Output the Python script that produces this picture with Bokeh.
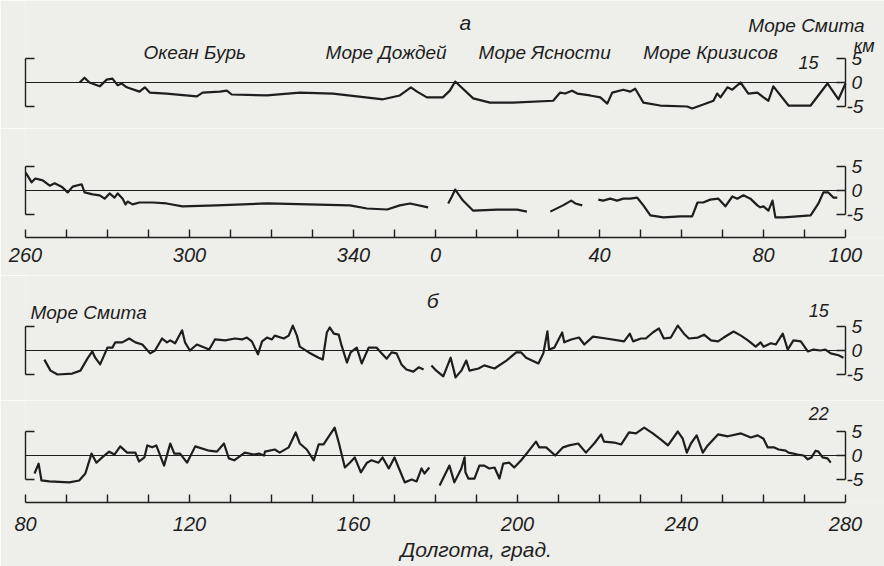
from bokeh.plotting import figure
from bokeh.layouts import column
from bokeh.models import Range1d, LinearAxis, FixedTicker, Label, ColumnDataSource, Title
from bokeh.embed import file_html
from bokeh.resources import INLINE

nan = float("nan")

# ---------------- data ----------------
# panel "а": longitude unwrapped (360 = 0, 400 = 40, 460 = 100), height in km
lon_a15 = [273.2, 274.4, 275.6, 278.1, 279.8, 281.2, 282.5, 283.4, 284.7, 287.8, 289.1, 290.3, 294.4, 301.8, 303.2,
           307.4, 309.1, 310.3, 318.9, 326.9, 335.0, 347.2, 351.3, 354.0, 355.5, 357.9, 361.8, 363.5, 364.8, 369.2,
           373.3, 378.9, 388.7, 390.4, 391.6, 393.3, 394.6, 397.7, 400.2, 401.9, 403.1, 405.8, 407.5, 408.7, 409.4,
           410.7, 414.8, 421.4, 422.6, 425.3, 427.8, 428.7, 429.5, 431.2, 432.4, 434.4, 436.3, 438.5, 440.0, 441.2,
           442.4, 446.1, 451.5, 455.6, 458.3, 460.0]
h_a15 = [0, 1.0, 0, -0.8, 0.6, 0.8, -0.6, -0.2, -1.0, -1.9, -1.0, -2.1, -2.3, -2.9, -2.1,
         -1.9, -1.7, -2.5, -2.7, -2.1, -2.3, -3.5, -2.7, -1.0, -1.9, -3.1, -3.1, -1.7, 0.2, -3.3,
         -4.2, -4.2, -3.8, -2.1, -2.3, -1.7, -2.3, -2.7, -3.1, -4.4, -2.1, -1.5, -1.9, -1.3, -2.3,
         -4.2, -4.8, -5.0, -5.4, -4.6, -3.8, -2.3, -3.1, -1.0, -1.5, 0, -2.3, -2.1, -3.1, -3.8,
         -0.8, -4.8, -4.8, -0.2, -3.5, -0.2]

lon_a22 = [260.0, 260.5, 261.5, 262.4, 264.2, 265.9, 267.1, 268.8, 270.3, 271.5, 273.7, 274.4, 276.4, 278.1,
           279.3, 280.5, 281.7, 282.5, 283.7, 284.4, 284.9, 286.1, 287.8, 291.0, 294.4, 298.3, 306.6, 318.9,
           339.1, 343.3, 348.2, 351.3, 353.8, 358.2, nan,
           363.1, 364.0, 364.8, 366.7, 369.2, 375.0, 379.9, 382.3, nan,
           388.0, 391.1, 393.1, 394.1, 395.8, nan,
           399.7, 400.9, 402.6, 404.3, 405.8, 407.5, 409.2, 410.7, 412.4, 415.6, 419.7, 422.6, 423.9, 425.3,
           427.0, 429.0, 430.7, 432.4, 433.6, 435.1, 436.8, 438.5, 439.2, 440.0, 441.2, 442.2, 442.9, 444.9,
           451.5, 453.4, 454.6, 455.8, 457.1, 458.0]
h_a22 = [3.75, 3.1, 1.7, 2.5, 2.1, 1.0, 1.5, 0.8, -0.4, 0.8, 1.3, -0.4, -0.8, -1.0,
         -1.7, -0.6, -1.5, -0.6, -1.7, -2.9, -2.3, -2.9, -2.5, -2.5, -2.7, -3.3, -3.1, -2.7,
         -3.1, -3.75, -3.96, -3.1, -2.7, -3.5, nan,
         -2.7, -1.25, 0.2, -2.1, -4.2, -4.0, -4.0, -4.4, nan,
         -4.4, -3.1, -2.1, -2.7, -3.1, nan,
         -1.9, -2.1, -1.7, -2.1, -1.7, -1.7, -1.5, -3.1, -5.2, -5.6, -5.4, -5.4, -2.5, -2.5,
         -1.9, -1.7, -3.3, -1.25, -1.7, -1.0, -1.7, -3.1, -3.5, -3.3, -4.2, -2.1, -5.6, -5.6,
         -5.2, -2.7, -0.4, -0.4, -1.5, -1.5]

# panel "б"
lon_b15 = [84.6, 86.1, 87.8, 91.4, 93.4, 95.1, 96.3, 97.0, 98.2, 100.0,
           101.2, 101.9, 103.6, 105.3, 106.8, 108.5, 110.4, 111.6, 113.3, 114.5,
           115.3, 116.5, 118.2, 118.9, 120.1, 121.8, 124.8, 126.2, 128.7, 131.1,
           132.8, 134.0, 135.2, 136.7, 137.7, 138.9, 140.1, 140.8, 143.0, 144.2,
           145.2, 146.2, 146.9, 149.1, 151.5, 152.5, 153.5, 154.2, 155.2, 156.4,
           157.1, 158.4, 159.3, 160.8, 162.0, 163.7, 165.6, 166.9, 168.1, 169.3,
           170.5, 171.7, 172.9, 174.6, 175.9, 177.1, nan,
           179.0, 180.2, 181.9, 183.7, 184.9, 186.3, 187.5, 188.3, 190.5, 191.9,
           194.4, 197.3, 199.7, 200.9, 202.1, 205.1, 206.3, 207.3, 207.7, 209.0,
           210.9, 211.4, 213.1, 215.0, 216.3, 218.4, 221.6, 226.0, 227.4, 228.2,
           230.1, 231.3, 233.0, 234.5, 235.7, 237.4, 239.1, 240.6, 241.8, 244.0,
           245.5, 247.2, 248.9, 250.3, 252.7, 254.5, 256.2, 258.1, 259.3, 260.0,
           261.8, 263.0, 264.7, 265.9, 267.3, 269.1, 270.8, 272.2, 273.9, 275.1,
           276.4, 278.3, 279.5]
h_b15 = [-1.9, -4.2, -5.0, -4.8, -4.2, -1.7, -0.2, -1.5, -2.9, 0.6,
         0.6, 1.7, 1.7, 2.5, 1.7, 1.25, -0.6, 0, 2.5, 1.7,
         2.1, 1.5, 4.2, 1.7, 0, 1.25, 0.2, 2.3, 2.1, 2.5,
         2.3, 2.7, 1.9, -0.8, 1.9, 2.7, 2.3, 3.1, 2.5, 3.1,
         5.2, 3.1, 0.8, -0.4, -1.5, -1.9, 3.75, 4.8, 3.5, 3.3,
         1.0, -2.5, -0.4, 0.6, -2.7, 0.6, 0.6, -0.6, -1.7, -0.4,
         -0.6, -2.9, -3.96, -4.4, -3.5, -3.96, nan,
         -3.1, -4.2, -5.4, -1.5, -5.6, -4.2, -2.1, -4.2, -3.75, -3.1,
         -3.75, -2.1, -0.4, -0.4, -1.5, -2.7, -0.6, 4.0, 0.2, 0.6,
         3.75, 1.7, 2.3, 2.7, 1.25, 2.9, 2.5, 1.9, 3.5, 1.9,
         2.5, 2.5, 3.75, 4.6, 2.5, 2.7, 5.2, 3.5, 2.5, 2.7,
         3.3, 2.1, 1.9, 2.7, 3.96, 3.1, 2.1, 0.8, 1.7, 0.8,
         1.5, 1.25, 3.5, 0.2, 2.1, 1.9, -0.2, 0.2, 0, 0.2,
         -0.6, -1.0, -1.5]

lon_b22 = [82.2, 83.2, 83.9, 85.8, 90.7, 93.1, 94.6, 96.1, 97.3, 98.7,
           100.4, 101.7, 103.1, 104.8, 106.8, 107.7, 109.0, 109.7, 110.9, 111.9,
           113.8, 115.3, 116.3, 117.7, 119.4, 121.4, 124.8, 126.7, 128.4, 129.6,
           130.9, 133.5, 135.7, 136.9, 138.2, 138.4, 140.8, 142.0, 144.2, 145.9,
           146.9, 148.6, 150.3, 151.5, 152.7, 155.4, 156.4, 157.9, 159.1, 160.3,
           161.8, 163.3, 164.4, 166.1, 167.1, 168.6, 170.0, 171.0, 172.5, 174.2,
           175.4, 176.6, 177.3, 178.5, nan,
           181.0, 183.4, 184.6, 186.3, 187.1, 187.3, 188.0, 189.5, 190.7, 191.9,
           193.1, 194.4, 195.6, 196.5, 198.0, 199.2, 200.9, 202.6, 204.5, 205.3,
           207.0, 209.2, 211.1, 212.6, 214.8, 216.7, 218.7, 220.4, 221.1, 223.6,
           225.3, 227.2, 228.9, 230.9, 233.0, 235.0, 236.7, 239.1, 240.3, 241.3,
           242.3, 243.7, 245.2, 246.4, 248.9, 251.3, 254.5, 256.9, 258.6, 260.0,
           261.0, 262.5, 263.7, 265.4, 266.1, 267.3, 268.3, 269.8, 270.8, 271.7,
           272.7, 273.4, 274.4, 275.6, 276.4]
h_b22 = [-3.75, -1.7, -5.2, -5.4, -5.6, -5.2, -3.75, 0.4, -1.5, -0.4,
         0.8, 0.2, 1.9, 0.6, 0.6, -1.25, -0.4, 2.1, 1.7, 2.1,
         -2.1, 2.5, 0.4, 0.4, -1.5, 1.9, 1.0, 0.8, 2.5, -0.6,
         -1.0, 0.6, 0.2, 0.4, 0, 0.8, 1.25, 0.6, 1.7, 4.8,
         2.5, 1.25, -1.0, 2.3, 2.3, 5.8, 2.7, -2.5, -1.5, -0.4,
         -3.5, -1.5, -1.0, -1.5, -0.4, -2.7, -0.4, -2.5, -5.6, -5.0,
         -5.4, -2.7, -3.75, -2.5, nan,
         -6.25, -2.1, -5.6, -2.7, -0.4, -3.5, -4.8, -4.8, -2.1, -2.1,
         -2.7, -2.5, -4.8, -1.7, -1.5, -2.5, -1.0, 0.8, 2.9, 1.7,
         1.7, 0, 1.7, 2.1, 2.5, 0.6, 2.5, 4.4, 2.9, 2.7,
         2.3, 4.8, 4.6, 5.8, 4.6, 3.3, 2.1, 5.0, 3.5, 0.6,
         2.5, 4.2, 0.6, 2.1, 4.4, 4.0, 4.6, 3.75, 4.2, 3.5,
         1.7, 1.7, 1.25, 1.0, 0.6, 0.4, 0.2, 0, -0.8, -0.4,
         1.0, 0.8, -0.4, -0.6, -1.5]

tick_pos_a = [260, 300, 340, 360, 400, 440, 460]
tick_lab_a = ["260", "300", "340", "0", "40", "80", "100"]
tick_pos_b = [80, 120, 160, 200, 240, 280]
tick_lab_b = ["80", "120", "160", "200", "240", "280"]
bracket_ticks = [-5, 0, 5]
bracket_labels = ["-5", "0", "5"]

# ---------------- style ----------------
BG = "#eeeeea"
INK = "#1e1e1e"
FONT = "Liberation Sans"
PX_PER_KM = 4.8
PX_PER_DEG = 4.1
W = 884
FRAME_L = 25
AX = dict(axis_line_color=INK, major_tick_line_color=INK, axis_line_width=1.4,
          major_tick_line_width=1.4, minor_tick_line_color=None)


def make_fig(height, x0, x1, zero_px, frame_h, mb_bottom):
    top = zero_px / PX_PER_KM
    bottom = -(frame_h - zero_px) / PX_PER_KM
    x_end = x0 + (W - FRAME_L) / PX_PER_DEG   # frame runs to the right edge of the page
    p = figure(width=W, height=height, x_range=Range1d(x0, x_end), y_range=Range1d(bottom, top),
               x_axis_type=None, y_axis_type=None, output_backend="svg", toolbar_location=None,
               min_border_left=FRAME_L, min_border_right=0, min_border_top=0, min_border_bottom=mb_bottom)
    p.background_fill_color = BG
    p.border_fill_color = BG
    p.outline_line_color = None
    left = LinearAxis(ticker=FixedTicker(ticks=[-5, 5]), bounds=(-5, 5), major_tick_in=9, major_tick_out=0,
                      major_label_standoff=0, major_label_overrides={-5: "", 5: ""},
                      major_label_text_font_size="1px", **AX)
    p.add_layout(left, "left")
    # right bracket at the end of the longitude scale
    right = LinearAxis(ticker=FixedTicker(ticks=bracket_ticks), bounds=(-5, 5), fixed_location=x1,
                       major_tick_in=9, major_tick_out=0, major_label_standoff=0,
                       major_label_overrides={t: "" for t in bracket_ticks},
                       major_label_text_font_size="1px", **AX)
    p.add_layout(right, "right")
    for t, l in zip(bracket_ticks, bracket_labels):
        p.add_layout(Label(x=x1, y=t, text=l, x_offset=6 if l != "-5" else 1, text_font=FONT,
                           text_font_style="italic", text_font_size="19px", text_color=INK,
                           text_align="left", text_baseline="middle"))
    p.segment(x0=[x0], y0=[0], x1=[x1], y1=[0], line_color=INK, line_width=1.1)
    return p


def xaxis(p, start, end, pos, lab, standoff):
    ticks = list(range(start, end + 1, 10))
    over = {t: "" for t in ticks}
    for t, l in zip(pos, lab):
        over[t] = l
    ax = LinearAxis(ticker=FixedTicker(ticks=ticks), bounds=(start, end), major_label_overrides=over,
                    major_tick_in=8, major_tick_out=0, major_label_standoff=standoff, major_label_text_font=FONT,
                    major_label_text_font_style="italic", major_label_text_font_size="20px",
                    major_label_text_color=INK, **AX)
    p.add_layout(ax, "below")


def profile(p, lon, h):
    src = ColumnDataSource(dict(lon=lon, h=h))
    p.line("lon", "h", source=src, line_color=INK, line_width=2.2, line_join="round")


def label(p, x, y, text, size="19px", align="left"):
    p.add_layout(Label(x=x, y=y, text=text, text_font=FONT, text_font_style="italic", text_font_size=size,
                       text_color=INK, text_align=align, text_baseline="middle"))


# panel а, profile 15
f1 = make_fig(128, 260, 460, 82, 128, 0)
profile(f1, lon_a15, h_a15)
label(f1, 367.3, 12.5, "а", "21px", "center")
label(f1, 288.8, 6.25, "Океан Бурь")
label(f1, 333.2, 6.25, "Море Дождей")
label(f1, 370.5, 6.25, "Море Ясности")
label(f1, 410.7, 6.25, "Море Кризисов")
label(f1, 436.3, 11.9, "Море Смита")
label(f1, 462.0, 7.7, "км", "18px")
label(f1, 453.4, 4.2, "15", "18px", "right")

# panel а, profile 22
f2 = make_fig(147, 260, 460, 62, 109, 38)
profile(f2, lon_a22, h_a22)
xaxis(f2, 260, 460, tick_pos_a, tick_lab_a, 10)

# panel б, profile 15
f3 = make_fig(125, 80, 280, 75, 125, 0)
profile(f3, lon_b15, h_b15)
label(f3, 179.3, 10.4, "б", "21px", "center")
label(f3, 81.2, 7.9, "Море Смита")
label(f3, 275.9, 8.3, "15", "18px", "right")

# panel б, profile 22
f4 = make_fig(166, 80, 280, 55, 102, 64)
profile(f4, lon_b22, h_b22)
xaxis(f4, 80, 280, tick_pos_b, tick_lab_b, 14)
label(f4, 275.9, 8.75, "22", "18px", "right")
f4.add_layout(Title(text="Долгота, град.", align="left", offset=375, standoff=8, vertical_align="top",
                    text_font=FONT, text_font_style="italic", text_font_size="21px", text_color=INK), "below")

layout = column(f1, f2, f3, f4, spacing=0)
open("out.html", "w").write(file_html(layout, INLINE))
